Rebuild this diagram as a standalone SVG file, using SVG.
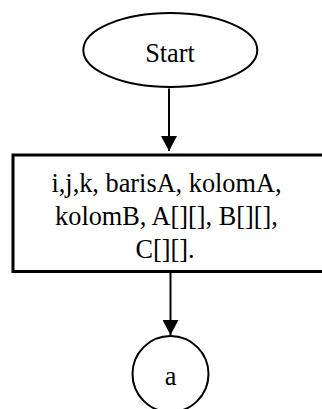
<svg xmlns="http://www.w3.org/2000/svg" width="322" height="409" viewBox="0 0 322 409">
  <style>
    .shape { fill: #ffffff; stroke: #000000; stroke-width: 2; }
    .box { fill: #ffffff; stroke: #000000; stroke-width: 3; }
    .edge { fill: none; stroke: #000000; stroke-width: 2; }
    .label { font-family: "Liberation Serif", "Times New Roman", serif; font-size: 26.3px; fill: #000000; text-anchor: middle; }
  </style>
  <defs>
    <marker id="arrow" markerUnits="userSpaceOnUse" markerWidth="16" markerHeight="16" refX="15" refY="8" orient="auto">
      <path d="M0,0 L15,8 L0,16 Z" fill="#000000"/>
    </marker>
  </defs>

  <g id="connectors">
    <line class="edge" x1="169" y1="88.5" x2="169" y2="151" marker-end="url(#arrow)"/>
    <line class="edge" x1="170.5" y1="273" x2="170.5" y2="335" marker-end="url(#arrow)"/>
  </g>

  <g id="start">
    <ellipse class="shape" cx="170.3" cy="50" rx="87" ry="37"/>
    <text class="label" x="170" y="61.5">Start</text>
  </g>

  <g id="declare">
    <rect class="box" x="13" y="155" width="330" height="116.5"/>
    <text class="label" x="166.5" y="191.5">i,j,k, barisA, kolomA,</text>
    <text class="label" x="166.5" y="225">kolomB, A[][], B[][],</text>
    <text class="label" x="165" y="258.3">C[][].</text>
  </g>

  <g id="connector-a">
    <circle class="shape" cx="170.5" cy="374" r="38"/>
    <text class="label" x="170.5" y="385">a</text>
  </g>
</svg>
